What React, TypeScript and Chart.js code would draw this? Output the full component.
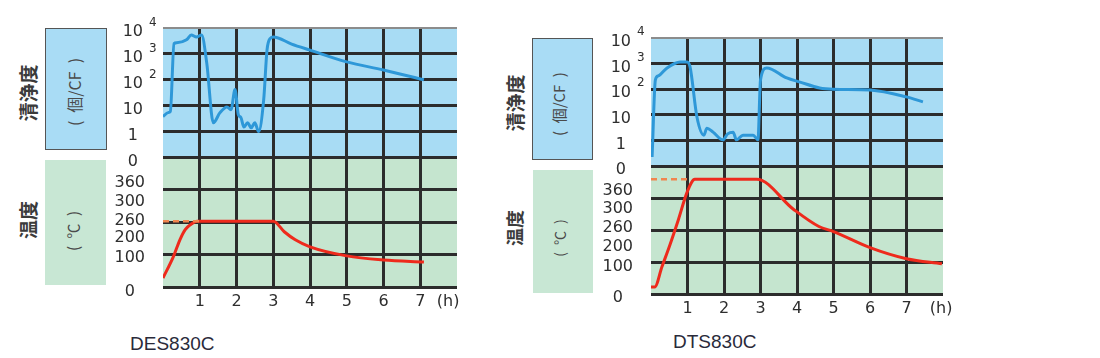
import React, { useEffect, useRef } from 'react';
import { Chart, registerables } from 'chart.js';
Chart.register(...registerables);

// ---------- DES830C ----------
const desCountHours = [0, 0.14, 0.2, 0.3, 0.37, 0.64, 0.77, 0.91, 1.05, 1.19, 1.37, 1.55, 1.74, 1.85, 1.96, 2.05, 2.12, 2.2, 2.3, 2.4, 2.5, 2.6, 2.74, 2.83, 2.92, 3.0, 3.5, 4.0, 5.0, 6.0, 7.1];
const desCounts = [3.8, 5.4, 6, 2500, 2700, 3500, 5400, 4500, 5400, 450, 2.2, 5.4, 9, 7, 42, 4.5, 3.5, 1.5, 2.2, 1.4, 2.2, 1.0, 17, 1400, 4000, 4500, 2400, 1400, 490, 240, 100];
const desTempHours = [0, 0.28, 0.46, 0.6, 0.74, 0.93, 3.0, 3.3, 3.6, 4.0, 5.0, 6.0, 7.1];
const desTemps = [41, 105, 190, 229, 247, 260, 260, 222, 190, 155, 110, 94, 88];
const desSetHours = [0, 1];
const desSetTemp = 260;
// where each temperature tick label sits on the 4-division temperature panel
const desTempStops = [-0.155, 0.899, 1.519, 2.03, 2.636, 3.225];

// ---------- DTS830C ----------
const dtsCountHours = [0.03, 0.12, 0.2, 0.44, 0.8, 0.99, 1.07, 1.26, 1.45, 1.53, 1.7, 1.97, 2.1, 2.25, 2.34, 2.52, 2.8, 2.93, 3.0, 3.17, 3.72, 4.08, 4.62, 5.0, 6.0, 7.0, 7.45];
const dtsCounts = [0.35, 230, 330, 680, 1150, 1150, 740, 8, 1.6, 3, 2.1, 1.05, 1.8, 2.1, 1.05, 1.6, 1.6, 1.05, 230, 680, 275, 190, 112, 100, 93, 50, 32];
const dtsTempHours = [0, 0.1, 0.3, 0.52, 0.75, 0.99, 1.2, 2.9, 3.9, 4.6, 5.0, 6.0, 7.0, 7.97];
const dtsTemps = [35, 35, 100, 206, 277, 357, 400, 400, 300, 262, 247, 195, 140, 115];
const dtsSetHours = [0, 1.0];
const dtsSetTemp = 400;
const dtsTempStops = [-0.126, 0.85, 1.48, 2.08, 2.65, 3.21];

// ---------- shared axis labels ----------
const hourTicks = [1, 2, 3, 4, 5, 6, 7];
const hourUnitLabel = '(h)';
const countTickValues = [0, 1, 10, 100, 1000, 10000];
const countTickLabels = ['0', '1', '10', '10', '10', '10'];
const countTickExponents = ['', '', '', '2', '3', '4'];
const tempTickValues = [0, 100, 200, 260, 300, 360];
const tempTickLabels = ['0', '100', '200', '260', '300', '360'];

const BLUE_BG = '#a8dcf4';
const GREEN_BG = '#c5e5cf';
const GRID = '#2c2c2c';
const TICK_COLOR = '#2e2e2e';
const TICK_FONT = { family: 'DejaVu Sans', size: 16 };

function countToUnit(v: number): number {
  return v < 1 ? v : Math.log10(v) + 1;
}

function tempToUnit(t: number, stops: number[]): number {
  const vals = tempTickValues;
  let i = 0;
  while (i < vals.length - 2 && t > vals[i + 1]) i++;
  const t0 = vals[i], t1 = vals[i + 1];
  return stops[i] + ((t - t0) / (t1 - t0)) * (stops[i + 1] - stops[i]);
}

const panelBg = {
  id: 'panelBg',
  beforeDraw(chart: any) {
    const { ctx, chartArea: a, scales } = chart;
    ctx.save();
    ctx.fillStyle = BLUE_BG;
    ctx.fillRect(a.left, scales.yU.top, a.right - a.left, scales.yU.bottom - scales.yU.top);
    ctx.fillStyle = GREEN_BG;
    ctx.fillRect(a.left, scales.yL.top, a.right - a.left, scales.yL.bottom - scales.yL.top);
    ctx.restore();
  },
};

const countExp = {
  id: 'countExp',
  afterDraw(chart: any, _args: any, opts: any) {
    const s = chart.scales.yU;
    const ctx = chart.ctx;
    ctx.save();
    ctx.font = '12px "DejaVu Sans"';
    ctx.fillStyle = TICK_COLOR;
    ctx.textAlign = 'left';
    ctx.textBaseline = 'middle';
    countTickValues.forEach((v, i) => {
      const e = countTickExponents[i];
      if (!e) return;
      const y = s.getPixelForValue(countToUnit(v)) + opts.dy;
      ctx.fillText(e, s.right - opts.pad + opts.dx, y);
    });
    ctx.restore();
  },
};

type Spec = {
  left: number; top: number; w: number; h: number;
  padTop: number; padRight: number; axisW: number; xAxisH: number;
  hPos: number; expDy: number;
  countHours: number[]; counts: number[];
  tempHours: number[]; temps: number[];
  setHours: number[]; setTemp: number; stops: number[];
};

function buildChart(canvas: HTMLCanvasElement, spec: Spec) {
  const countLine = spec.countHours.map((h, i) => ({ x: h, y: countToUnit(spec.counts[i]) }));
  const tempLine = spec.tempHours.map((h, i) => ({ x: h, y: tempToUnit(spec.temps[i], spec.stops) }));
  const setLine = spec.setHours.map((h) => ({ x: h, y: tempToUnit(spec.setTemp, spec.stops) }));
  const upperPad = 20;
  const lowerPad = 18;
  const fitY = (s: any) => { s.width = spec.axisW; s.paddingTop = 0; s.paddingBottom = 0; };
  return new Chart(canvas, {
    type: 'line',
    data: {
      datasets: [
        { data: setLine, yAxisID: 'yL', borderColor: '#f0864f', borderWidth: 2.5, borderDash: [6, 4], pointRadius: 0, tension: 0 },
        { data: tempLine, yAxisID: 'yL', borderColor: '#ee2a1c', borderWidth: 3, pointRadius: 0, cubicInterpolationMode: 'monotone' },
        { data: countLine, yAxisID: 'yU', borderColor: '#2e98d8', borderWidth: 3, pointRadius: 0, cubicInterpolationMode: 'monotone' },
      ],
    } as any,
    options: {
      animation: false,
      responsive: false,
      devicePixelRatio: 1,
      layout: { padding: { top: spec.padTop, right: spec.padRight, left: 0, bottom: 0 } },
      plugins: {
        legend: { display: false },
        tooltip: { enabled: false },
        countExp: { dy: spec.expDy, pad: upperPad, dx: 6 },
      } as any,
      scales: {
        x: {
          type: 'linear', min: 0, max: 8,
          afterBuildTicks: (s: any) => { s.ticks = [...hourTicks.map((v) => ({ value: v })), { value: spec.hPos }]; },
          afterFit: (s: any) => { s.height = spec.xAxisH; s.paddingLeft = 0; s.paddingRight = 0; },
          ticks: {
            autoSkip: false, maxRotation: 0, padding: 5, font: TICK_FONT, color: TICK_COLOR,
            callback: (v: any) => (v === spec.hPos ? hourUnitLabel : String(v)),
          },
          grid: {
            drawTicks: false, lineWidth: 3,
            color: (c: any) => (c.tick && hourTicks.includes(c.tick.value) ? GRID : 'rgba(0,0,0,0)'),
          },
          border: { display: false },
        },
        yU: {
          type: 'linear', position: 'left', stack: 'panels', stackWeight: 1, weight: 2,
          min: 0, max: 5,
          afterBuildTicks: (s: any) => { s.ticks = countTickValues.map((v) => ({ value: countToUnit(v) })); },
          afterFit: fitY,
          ticks: {
            autoSkip: false, padding: upperPad, crossAlign: 'center', labelOffset: 4,
            font: TICK_FONT, color: TICK_COLOR,
            callback: (_v: any, i: number) => countTickLabels[i],
          },
          grid: {
            drawTicks: false,
            lineWidth: (c: any) => (c.tick && c.tick.value === 5 ? 2 : 3),
            color: (c: any) => (c.tick && c.tick.value === 5 ? '#8c8c8c' : GRID),
          },
          border: { display: false },
        },
        yL: {
          type: 'linear', position: 'left', stack: 'panels', stackWeight: 1, weight: 1,
          min: 0, max: 4,
          afterBuildTicks: (s: any) => {
            s.ticks = [0, 1, 2, 3, 4].map((v) => ({ value: v })).concat(spec.stops.map((v) => ({ value: v })));
          },
          afterFit: fitY,
          ticks: {
            autoSkip: false, padding: lowerPad, crossAlign: 'center',
            font: TICK_FONT, color: TICK_COLOR,
            callback: (v: any) => {
              const idx = spec.stops.findIndex((st) => Math.abs(st - v) < 1e-9);
              return idx >= 0 ? tempTickLabels[idx] : '';
            },
          },
          grid: {
            drawTicks: false, lineWidth: 3,
            color: (c: any) => (c.tick && Number.isInteger(c.tick.value) ? GRID : 'rgba(0,0,0,0)'),
          },
          border: { display: false },
        },
      } as any,
    },
    plugins: [panelBg, countExp],
  });
}

function ChartCanvas({ spec }: { spec: Spec }) {
  const ref = useRef<HTMLCanvasElement>(null);
  useEffect(() => {
    const c = buildChart(ref.current as HTMLCanvasElement, spec);
    return () => c.destroy();
  }, []);
  return (
    <canvas
      ref={ref}
      width={spec.w}
      height={spec.h}
      style={{ position: 'absolute', left: spec.left, top: spec.top, width: spec.w, height: spec.h }}
    />
  );
}

function VText({ x, y, text, size, bold, color }: { x: number; y: number; text: string; size: number; bold?: boolean; color: string }) {
  return (
    <div
      style={{
        position: 'absolute', left: x, top: y, transform: 'translate(-50%, -50%) rotate(-90deg)',
        whiteSpace: 'pre', fontFamily: '"Noto Sans CJK JP", sans-serif', fontSize: size,
        fontWeight: bold ? 700 : 400, color, lineHeight: 1,
      }}
    >
      {text}
    </div>
  );
}

function Box({ x, y, w, h, bg, border }: { x: number; y: number; w: number; h: number; bg: string; border?: boolean }) {
  return (
    <div
      style={{
        position: 'absolute', left: x, top: y, width: w, height: h, background: bg,
        boxSizing: 'border-box', border: border ? '1.5px solid #555' : 'none',
      }}
    />
  );
}

const desSpec: Spec = {
  left: 107, top: 10, w: 370, h: 310, padTop: 18, padRight: 20, axisW: 56, xAxisH: 33,
  hPos: 7.76, expDy: -5,
  countHours: desCountHours, counts: desCounts, tempHours: desTempHours, temps: desTemps,
  setHours: desSetHours, setTemp: desSetTemp, stops: desTempStops,
};

const dtsSpec: Spec = {
  left: 595, top: 20, w: 370, h: 300, padTop: 18, padRight: 22, axisW: 56, xAxisH: 26,
  hPos: 7.95, expDy: -6,
  countHours: dtsCountHours, counts: dtsCounts, tempHours: dtsTempHours, temps: dtsTemps,
  setHours: dtsSetHours, setTemp: dtsSetTemp, stops: dtsTempStops,
};

const unitCount = '(\u2002個/CF\u2002)';
const unitTemp = '(\u2002℃\u2002)';

export default function App() {
  return (
    <div style={{ position: 'absolute', left: 0, top: 0, width: 1100, height: 358, background: '#fff', overflow: 'hidden' }}>
      {/* DES830C side labels */}
      <Box x={45} y={28} w={62} h={122} bg="#a9dcf5" border />
      <Box x={45} y={160} w={61} h={125} bg="#c8e7d4" />
      <VText x={27} y={93} text="清浄度" size={19} bold color="#3b3b3b" />
      <VText x={74} y={92} text={unitCount} size={16} color="#4a4a4a" />
      <VText x={27} y={220} text="温度" size={19} bold color="#3b3b3b" />
      <VText x={72} y={231} text={unitTemp} size={15} color="#4a4a4a" />

      {/* DTS830C side labels */}
      <Box x={532} y={38} w={61} h={122} bg="#a9dcf5" border />
      <Box x={533} y={170} w={60} h={123} bg="#c8e7d4" />
      <VText x={514} y={103} text="清浄度" size={19} bold color="#3b3b3b" />
      <VText x={558} y={104} text={unitCount} size={15} color="#4a4a4a" />
      <VText x={514} y={228} text="温度" size={18} bold color="#3b3b3b" />
      <VText x={559} y={238} text={unitTemp} size={14} color="#4a4a4a" />

      <ChartCanvas spec={desSpec} />
      <ChartCanvas spec={dtsSpec} />

      <div style={{ position: 'absolute', left: 130, top: 334, fontFamily: '"Liberation Sans", Arial, sans-serif', fontSize: 19, lineHeight: '20px', color: '#2a2a3a' }}>DES830C</div>
      <div style={{ position: 'absolute', left: 673, top: 332, fontFamily: '"Liberation Sans", Arial, sans-serif', fontSize: 19, lineHeight: '20px', color: '#2a2a3a' }}>DTS830C</div>
    </div>
  );
}
